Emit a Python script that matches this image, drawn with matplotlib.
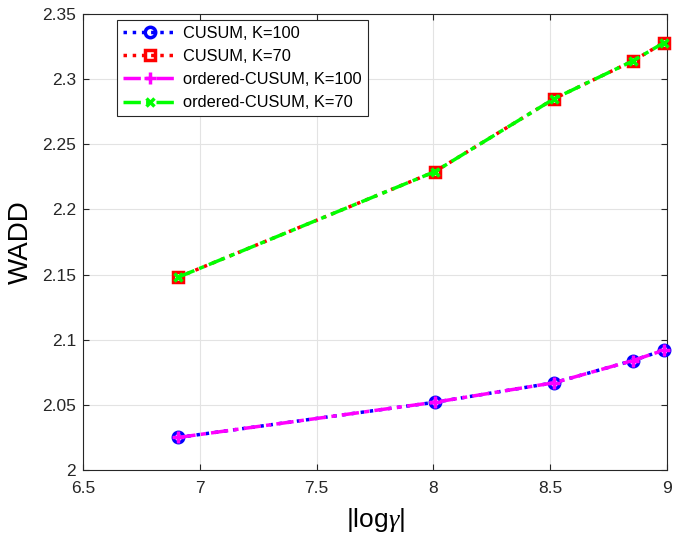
import matplotlib.pyplot as plt

plt.rcParams['font.family'] = ['Liberation Sans', 'DejaVu Sans']
plt.rcParams['mathtext.fontset'] = 'custom'
plt.rcParams['mathtext.it'] = 'Liberation Serif:italic'

# |log gamma| for gamma = 1000, 3000, 5000, 7000, 8000
log_gamma = [6.908, 8.006, 8.517, 8.854, 8.987]

cusum_k100 = [2.025, 2.052, 2.067, 2.084, 2.092]
cusum_k70 = [2.148, 2.229, 2.285, 2.314, 2.328]
ocusum_k100 = [2.025, 2.052, 2.067, 2.084, 2.092]
ocusum_k70 = [2.148, 2.229, 2.285, 2.314, 2.328]

fig = plt.figure(figsize=(6.73, 5.4), dpi=100)
ax = fig.add_axes([83 / 673, 70 / 540, 584 / 673, 456 / 540])

ax.plot(log_gamma, cusum_k100, ':', color='blue', lw=2.5, marker='o',
        ms=7.5, mfc='none', mec='blue', mew=2.5, label='CUSUM, K=100',
        clip_on=False, zorder=3)
ax.plot(log_gamma, cusum_k70, ':', color='red', lw=2.5, marker='s',
        ms=7, mfc='none', mec='red', mew=2.5, label='CUSUM, K=70',
        clip_on=False, zorder=3)
ax.plot(log_gamma, ocusum_k100, '-.', color='magenta', lw=2.5, marker='+',
        ms=8, mew=2.5, label='ordered-CUSUM, K=100', clip_on=False, zorder=4,
        dashes=(5, 1.5, 1.5, 1.5))
ax.plot(log_gamma, ocusum_k70, '-.', color='lime', lw=2.5, marker='x',
        ms=6, mew=2.5, label='ordered-CUSUM, K=70', clip_on=False, zorder=4,
        dashes=(5, 1.5, 1.5, 1.5))

ax.set_xlim(6.5, 9)
ax.set_ylim(2, 2.35)
ax.set_xticks([6.5, 7, 7.5, 8, 8.5, 9])
ax.set_xticklabels(['6.5', '7', '7.5', '8', '8.5', '9'])
ax.set_yticks([2, 2.05, 2.1, 2.15, 2.2, 2.25, 2.3, 2.35])
ax.set_yticklabels(['2', '2.05', '2.1', '2.15', '2.2', '2.25', '2.3', '2.35'])
ax.grid(True, color='#e3e3e3', lw=0.8)
ax.set_axisbelow(True)
ax.tick_params(direction='in', labelsize=12.5, color='#262626',
               labelcolor='#262626', top=True, right=True, length=4)
ax.tick_params(axis='x', pad=8)
ax.tick_params(axis='y', pad=5)
for s in ax.spines.values():
    s.set_color('#262626')
    s.set_linewidth(0.8)

ax.set_xlabel(r'|log$\gamma$|', fontsize=19, labelpad=7)
ax.set_ylabel('WADD', fontsize=20, labelpad=6)

leg = ax.legend(loc='upper left', bbox_to_anchor=(0.058, 0.987), fontsize=11.8,
                fancybox=False, edgecolor='#262626', framealpha=1,
                handlelength=3.4, borderpad=0.35, labelspacing=0.5,
                handletextpad=0.3, borderaxespad=0)
leg.get_frame().set_linewidth(0.8)
leg.set_zorder(5)

fig.savefig('out.png', dpi=100)
